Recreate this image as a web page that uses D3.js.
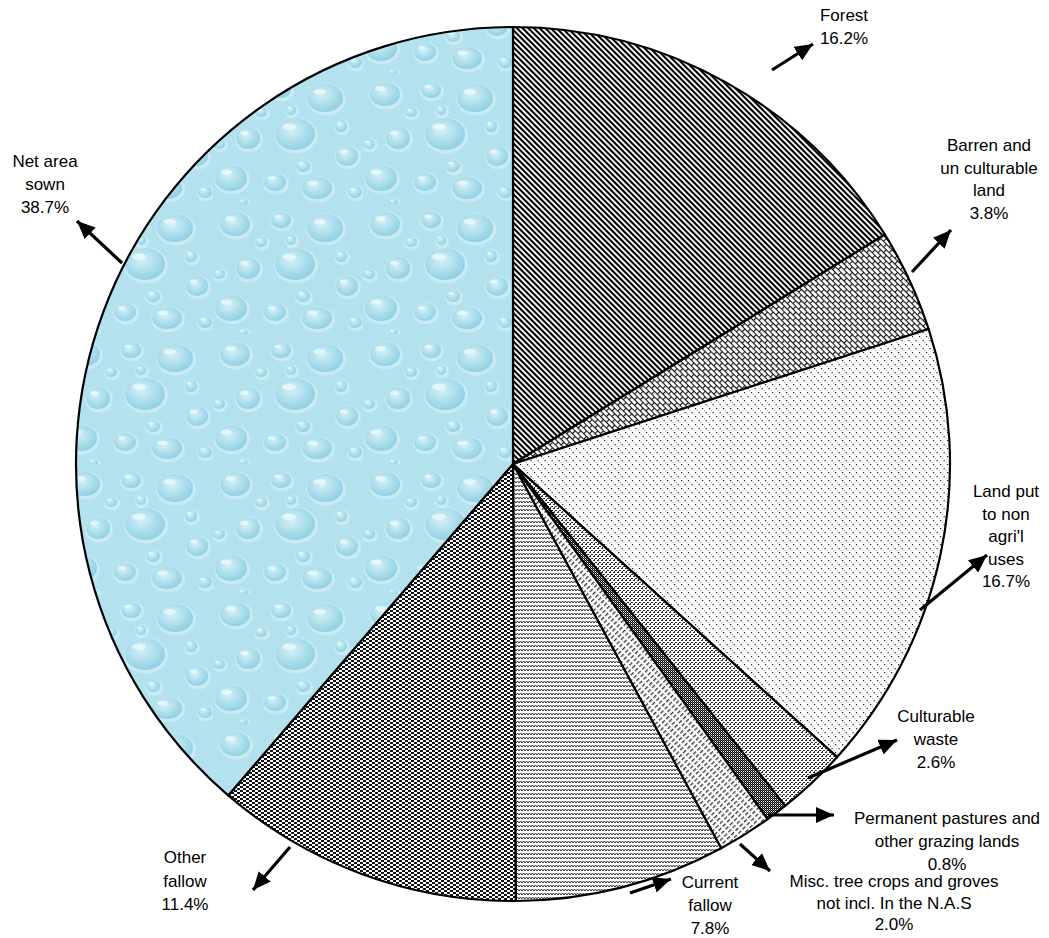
<!DOCTYPE html>
<html><head><meta charset="utf-8">
<script src="https://cdn.jsdelivr.net/npm/d3@7"></script>
<style>
html,body{margin:0;padding:0;background:#fff;}
svg{display:block;}
text{font-family:"Liberation Sans",Arial,sans-serif;font-size:17px;fill:#000;}
</style></head>
<body>
<svg id="chart" width="1049" height="938"></svg>
<script>
// ---- data ----
const categories = ["Forest","Barren and un culturable land","Land put to non agri'l uses","Culturable waste","Permanent pastures and other grazing lands","Misc. tree crops and groves not incl. In the N.A.S","Current fallow","Other fallow","Net area sown"];
const shares = [16.2, 3.8, 16.7, 2.6, 0.8, 2.0, 7.8, 11.4, 38.7];
const labelLines = [
  ["Forest","16.2%"],
  ["Barren and","un culturable","land","3.8%"],
  ["Land put","to non","agri'l","uses","16.7%"],
  ["Culturable","waste","2.6%"],
  ["Permanent pastures and","other grazing lands","0.8%"],
  ["Misc. tree crops and groves","not incl. In the N.A.S","2.0%"],
  ["Current","fallow","7.8%"],
  ["Other","fallow","11.4%"],
  ["Net area","sown","38.7%"]
];
const patternIds = ["pForest","pBarren","pLand","pCultWaste","pPasture","pMisc","pCurFallow","pOthFallow","pWater"];

// ---- layout (positions only) ----
const cx = 513, cy = 464, R = 437;
const labelPos = [ // center x, first baseline y, line height
  [844, 21, 23], [989, 151, 22.7], [1006, 497, 22.5], [936, 722, 23],
  [947, 824, 23], [894, 887, 21.5], [710, 888, 23], [185, 863, 23.5], [45, 167, 23]
];
const arrows = [ // tail x,y -> tip x,y
  [772,70, 813,44], [912,272, 951,230], [920,610, 987,555], [808,778, 897,740],
  [768,815, 834,815], [740,844, 770,871], [630,893, 671,879], [290,847, 253,890], [122,263, 77,221]
];

const svg = d3.select("#chart");
const defs = svg.append("defs");

function pat(id, w, h, transform) {
  const p = defs.append("pattern").attr("id", id).attr("patternUnits","userSpaceOnUse")
    .attr("width", w).attr("height", h);
  if (transform) p.attr("patternTransform", transform);
  p.append("rect").attr("width", w).attr("height", h).attr("fill", "#fff");
  return p;
}
// Forest: wide downward diagonal
pat("pForest", 10, 4, "rotate(45)").append("rect").attr("y",0).attr("width",10).attr("height",2.1).attr("fill","#000");
// Barren: diagonal brick
{
  const p = pat("pBarren", 8, 8, "rotate(45)");
  p.append("rect").attr("x",0).attr("y",0).attr("width",8).attr("height",1.1).attr("fill","#111");
  p.append("rect").attr("x",0).attr("y",4).attr("width",8).attr("height",1.1).attr("fill","#111");
  p.append("rect").attr("x",0).attr("y",0).attr("width",1.1).attr("height",4).attr("fill","#111");
  p.append("rect").attr("x",4).attr("y",4).attr("width",1.1).attr("height",4).attr("fill","#111");
}
// Land: sparse dots
{
  const p = pat("pLand", 7, 8);
  [[0,0],[3.5,4]].forEach(d => p.append("rect").attr("x",d[0]).attr("y",d[1]).attr("width",1.2).attr("height",1.2).attr("fill","#222"));
  [[2,2],[5.5,6]].forEach(d => p.append("rect").attr("x",d[0]).attr("y",d[1]).attr("width",1).attr("height",1).attr("fill","#999"));
}
// Culturable waste: denser staggered dots
{
  const p = pat("pCultWaste", 4, 4);
  [[0,0],[1,0],[2,2],[3,2],[1,3]].forEach(d => p.append("rect").attr("x",d[0]).attr("y",d[1]).attr("width",1).attr("height",1).attr("fill","#333"));
}
// Permanent pastures: dark checker
{
  const p = pat("pPasture", 2, 2);
  p.append("rect").attr("x",0).attr("y",0).attr("width",1).attr("height",1).attr("fill","#000");
  p.append("rect").attr("x",1).attr("y",1).attr("width",1).attr("height",1).attr("fill","#000");
  p.append("rect").attr("x",1).attr("y",0).attr("width",1).attr("height",1).attr("fill","#666");
}
// Misc: dashed upward diagonal
pat("pMisc", 6, 4, "rotate(-45)").append("rect").attr("x",0).attr("y",0).attr("width",4).attr("height",1.3).attr("fill","#333");
// Current fallow: zigzag
pat("pCurFallow", 6, 4).append("path").attr("d","M0,3 L1.5,1 L3,3 L4.5,1 L6,3").attr("fill","none").attr("stroke","#333").attr("stroke-width",1);
// Other fallow: staggered small bricks
{
  const p = pat("pOthFallow", 6, 4);
  p.append("rect").attr("x",0).attr("y",0).attr("width",3).attr("height",2).attr("fill","#111");
  p.append("rect").attr("x",3).attr("y",2).attr("width",3).attr("height",2).attr("fill","#111");
}
// Water droplets texture
{
  const g = defs.append("radialGradient").attr("id","drop").attr("cx","42%").attr("cy","38%").attr("r","65%");
  g.append("stop").attr("offset","0%").attr("stop-color","#d4f1f7");
  g.append("stop").attr("offset","60%").attr("stop-color","#a9dceb");
  g.append("stop").attr("offset","100%").attr("stop-color","#8fcfe1");
  const p = defs.append("pattern").attr("id","pWater").attr("patternUnits","userSpaceOnUse")
    .attr("width",150).attr("height",130);
  p.append("rect").attr("width",150).attr("height",130).attr("fill","#b3e2ee");
  const drops = [[22,20,15,12],[68,16,10,8],[112,24,18,14],[35,64,12,11],[82,60,20,16],[134,82,11,10],
                 [18,104,16,13],[62,108,11,9],[104,114,15,11],[48,38,6,5],[90,92,7,6],[128,52,6,6],
                 [6,70,6,5],[78,36,5,5],[142,118,7,6],[30,128,5,3]];
  drops.forEach(d => {
    p.append("ellipse").attr("cx",d[0]+1).attr("cy",d[1]+1.5).attr("rx",d[2]+2).attr("ry",d[3]+2).attr("fill","#d2eff6").attr("opacity",0.7);
    p.append("ellipse").attr("cx",d[0]).attr("cy",d[1]).attr("rx",d[2]).attr("ry",d[3]).attr("fill","url(#drop)");
    p.append("ellipse").attr("cx",d[0]-d[2]*0.3).attr("cy",d[1]-d[3]*0.45).attr("rx",d[2]*0.35).attr("ry",d[3]*0.2).attr("fill","#eefafc").attr("opacity",0.75);
  });
}

// arrow marker
defs.append("marker").attr("id","arrowHead").attr("markerUnits","userSpaceOnUse")
  .attr("markerWidth",19).attr("markerHeight",16).attr("refX",18).attr("refY",8).attr("orient","auto")
  .append("path").attr("d","M0,0 L18,8 L0,16 Z").attr("fill","#000");

// pie
const pie = d3.pie().sort(null).value(d => d).startAngle(0).endAngle(2*Math.PI);
const arc = d3.arc().innerRadius(0).outerRadius(R);
const g = svg.append("g").attr("transform", `translate(${cx},${cy})`);
g.selectAll("path.slice").data(pie(shares)).join("path")
  .attr("class","slice")
  .attr("d", arc)
  .attr("fill", (d,i) => `url(#${patternIds[i]})`)
  .attr("stroke","#000").attr("stroke-width",2.2).attr("stroke-linejoin","round");

// leader arrows
svg.append("g").selectAll("line").data(arrows).join("line")
  .attr("x1", d => d[0]).attr("y1", d => d[1]).attr("x2", d => d[2]).attr("y2", d => d[3])
  .attr("stroke","#000").attr("stroke-width",3.2).attr("marker-end","url(#arrowHead)");

// labels
const lg = svg.append("g");
labelLines.forEach((lines, i) => {
  const [x, y, lh] = labelPos[i];
  const t = lg.append("text").attr("text-anchor","middle");
  lines.forEach((s, j) => t.append("tspan").attr("x", x).attr("y", y + j*lh).text(s));
});
</script>
</body></html>
